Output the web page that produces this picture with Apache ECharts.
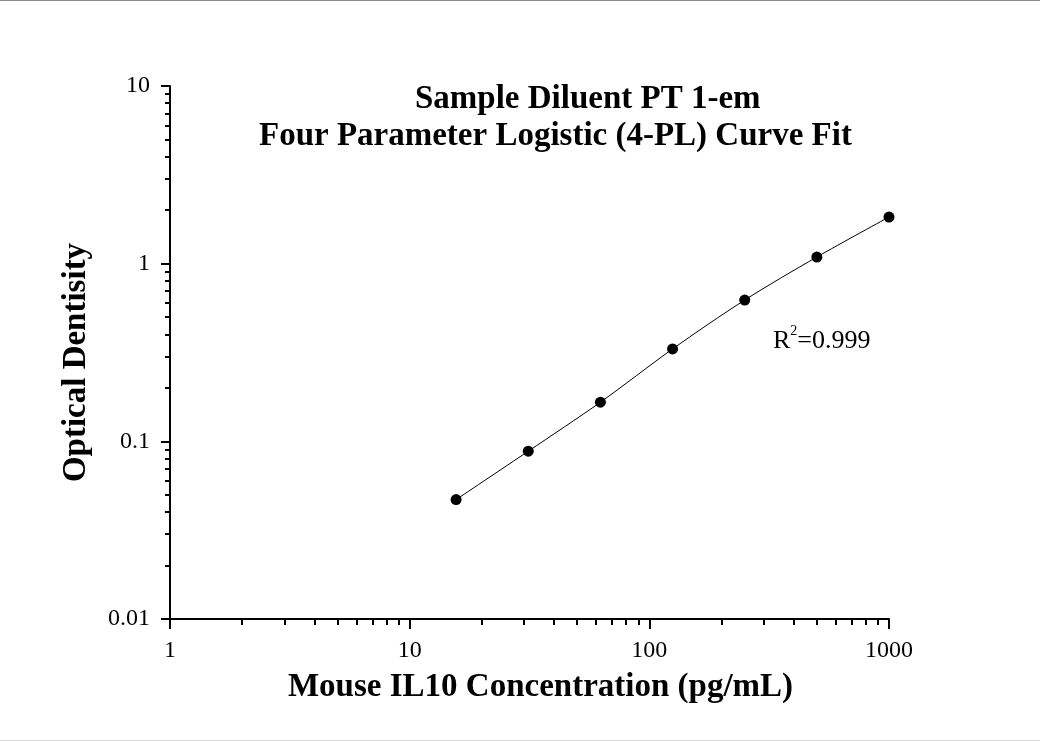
<!DOCTYPE html>
<html>
<head>
<meta charset="utf-8">
<script src="https://cdn.jsdelivr.net/npm/echarts@6/dist/echarts.min.js"></script>
<style>
html,body{margin:0;padding:0;background:#fff;}
#chart{width:1040px;height:742px;}
</style>
</head>
<body>
<div id="chart"></div>
<script>
// Data
const concentrations = [15.625, 31.25, 62.5, 125, 250, 500, 1000];
const opticalDensity = [0.047, 0.088, 0.166, 0.331, 0.624, 1.09, 1.83];
const xMajorTicks = [1, 10, 100, 1000];
const yMajorTicks = [0.01, 0.1, 1, 10];
const xMinorTicks = [2,3,4,5,6,7,8,9,20,30,40,50,60,70,80,90,200,300,400,500,600,700,800,900];
const yMinorTicks = [0.02,0.03,0.04,0.05,0.06,0.07,0.08,0.09,0.2,0.3,0.4,0.5,0.6,0.7,0.8,0.9,2,3,4,5,6,7,8,9];
const titleLine1 = 'Sample Diluent PT 1-em';
const titleLine2 = 'Four Parameter Logistic (4-PL) Curve Fit';
const xName = 'Mouse IL10 Concentration (pg/mL)';
const yName = 'Optical Dentisity';
const rSquared = '0.999';

const FONT = "'Times New Roman', 'Liberation Serif', serif";
const points = concentrations.map((c, i) => [c, opticalDensity[i]]);

const chart = echarts.init(document.getElementById('chart'), null, {renderer: 'canvas'});
const gridPos = {left: 170, right: 151, top: 86, bottom: 123};

chart.setOption({
  backgroundColor: '#fff',
  animation: false,
  title: [
    {text: titleLine1, left: 415, top: 83, padding: 0,
     textStyle: {fontFamily: FONT, fontSize: 33, fontWeight: 'bold', color: '#000'}},
    {text: titleLine2, left: 259, top: 120, padding: 0,
     textStyle: {fontFamily: FONT, fontSize: 33, fontWeight: 'bold', color: '#000'}}
  ],
  grid: [
    Object.assign({}, gridPos),
    Object.assign({}, gridPos)
  ],
  xAxis: [
    {
      type: 'log', logBase: 10, min: 1, max: 1000, gridIndex: 0, position: 'bottom',
      name: xName, nameLocation: 'middle', nameGap: 52,
      nameTextStyle: {fontFamily: FONT, fontSize: 33, fontWeight: 'bold', color: '#000', padding: [0, 0, 0, 22]},
      axisLine: {show: true, onZero: false, lineStyle: {color: '#000', width: 2}},
      axisTick: {show: true, length: 10, lineStyle: {color: '#000', width: 2}, customValues: xMajorTicks},
      axisLabel: {fontFamily: FONT, fontSize: 24, color: '#000', margin: 20, customValues: xMajorTicks,
                  formatter: v => String(v)},
      splitLine: {show: false}, minorTick: {show: false}
    },
    {
      type: 'log', logBase: 10, min: 1, max: 1000, gridIndex: 1, position: 'bottom',
      axisLine: {show: false},
      axisTick: {show: true, length: 6, lineStyle: {color: '#000', width: 2}, customValues: xMinorTicks},
      axisLabel: {show: false},
      splitLine: {show: false}
    }
  ],
  yAxis: [
    {
      type: 'log', logBase: 10, min: 0.01, max: 10, gridIndex: 0, position: 'left',
      name: yName, nameLocation: 'middle', nameGap: 77, nameRotate: 90,
      nameTextStyle: {fontFamily: FONT, fontSize: 33, fontWeight: 'bold', color: '#000', padding: [0, 20, 0, 0]},
      axisLine: {show: true, onZero: false, lineStyle: {color: '#000', width: 2}},
      axisTick: {show: true, length: 9, lineStyle: {color: '#000', width: 2}, customValues: yMajorTicks},
      axisLabel: {fontFamily: FONT, fontSize: 24, color: '#000', margin: 20, customValues: yMajorTicks,
                  formatter: v => String(v)},
      splitLine: {show: false}, minorTick: {show: false}
    },
    {
      type: 'log', logBase: 10, min: 0.01, max: 10, gridIndex: 1, position: 'left',
      axisLine: {show: false},
      axisTick: {show: true, length: 5, lineStyle: {color: '#000', width: 2}, customValues: yMinorTicks},
      axisLabel: {show: false},
      splitLine: {show: false}
    }
  ],
  series: [
    {
      type: 'line', xAxisIndex: 0, yAxisIndex: 0, data: points,
      smooth: 0.3, symbol: 'circle', symbolSize: 11,
      lineStyle: {color: '#000', width: 1},
      itemStyle: {color: '#000'},
      label: {show: false}, z: 3
    }
  ],
  graphic: [
    {type: 'text', left: 773, top: 324, z: 10,
     style: {
       text: '{r|R}{s|2}{r|=' + rSquared + '}',
       rich: {
         r: {fontFamily: FONT, fontSize: 26, fill: '#000', verticalAlign: 'bottom', lineHeight: 30},
         s: {fontFamily: FONT, fontSize: 14, fill: '#000', verticalAlign: 'top', lineHeight: 30, padding: [0, 0, 14, 0]}
       }
     }},
    {type: 'line', shape: {x1: 0, y1: 0.5, x2: 1040, y2: 0.5}, style: {stroke: '#888', lineWidth: 1}},
    {type: 'line', shape: {x1: 0, y1: 740.5, x2: 1040, y2: 740.5}, style: {stroke: '#ddd', lineWidth: 1}}
  ]
});
</script>
</body>
</html>
